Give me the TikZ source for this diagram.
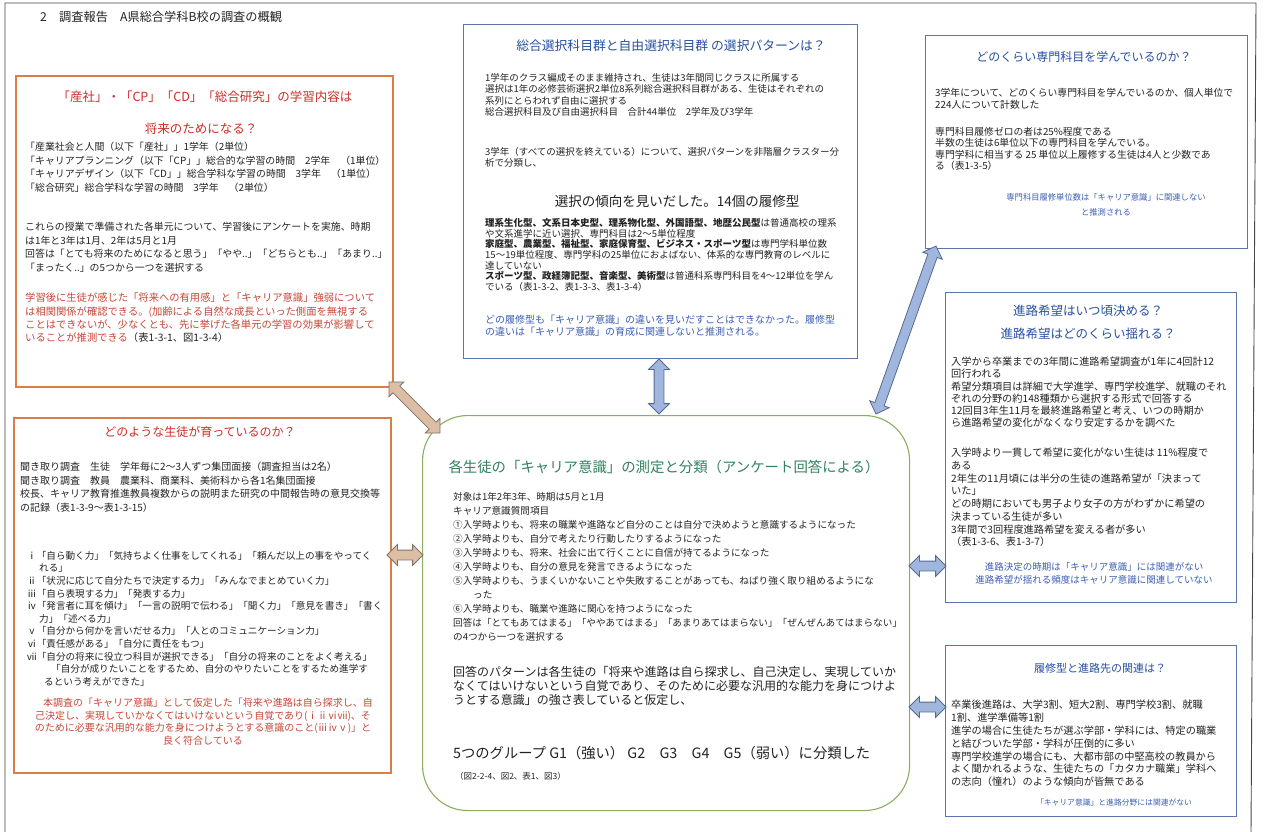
\documentclass[tikz,border=0pt]{standalone}
\usepackage{fontspec}
\setmainfont{Noto Sans CJK JP}
\usetikzlibrary{calc,shapes.arrows}
\definecolor{txt}{RGB}{35,35,35}
\definecolor{orangeb}{RGB}{219,125,70}
\definecolor{redt}{RGB}{205,45,40}
\definecolor{redp}{RGB}{200,70,55}
\definecolor{blueb}{RGB}{90,118,170}
\definecolor{bluet}{RGB}{40,80,160}
\definecolor{bluep}{RGB}{60,95,180}
\definecolor{greenb}{RGB}{140,175,95}
\definecolor{greent}{RGB}{50,130,95}
\definecolor{tanfill}{RGB}{220,190,165}
\definecolor{tandraw}{RGB}{130,115,105}
\definecolor{bluefill}{RGB}{160,182,220}
\definecolor{bluedraw}{RGB}{85,105,150}
\definecolor{framec}{RGB}{70,70,70}
\newcommand\myfs[2]{\fontsize{#1}{#2}\selectfont}
\newcommand\dblarrow[3]{\path let \p1=($(#2)-(#1)$), \n1={veclen(\x1,\y1)} in (#1) -- (#2) node[midway, sloped, #3, minimum height=\n1] {};}
\tikzset{
  obox/.style={draw=orangeb, line width=1.6pt, fill=white, inner sep=0pt, anchor=north west},
  bbox/.style={draw=blueb, line width=1.4pt, fill=white, inner sep=0pt, anchor=north west},
  gbox/.style={draw=greenb, line width=1.1pt, fill=white, inner sep=0pt, anchor=north west, rounded corners=45pt},
  bodytxt/.style={anchor=north west, inner sep=0pt, align=left, text=txt},
  ctrtxt/.style={anchor=center, inner sep=0pt, align=center},
  dblarr/.style={double arrow, draw, inner xsep=0pt, inner ysep=4.5pt, double arrow head extend=5.5pt, line width=0.8pt},
  tanarr/.style={dblarr, fill=tanfill, draw=tandraw},
  bluearr/.style={dblarr, fill=bluefill, draw=bluedraw},
  framel/.style={draw=framec, line width=0.9pt}
}
\begin{document}
\begin{tikzpicture}[x=1pt,y=-1pt]
\useasboundingbox (0,0) rectangle (1266,832);
\fill[white] (0,0) rectangle (1266,832);
\draw[framel] (5,832) -- (5,3) -- (1256,3) -- (1251,832);

\node[anchor=west, inner sep=0pt, text=txt, font=\myfs{12.2}{15}] (hdr) at (40,17) {2　調査報告　A県総合学科B校の調査の概観};

% boxes
\node[obox, minimum width=377, minimum height=311] (lt) at (15,75) {};
\node[obox, minimum width=377, minimum height=355] (lb) at (13,417) {};
\node[bbox, minimum width=394, minimum height=334] (tc) at (463,24) {};
\node[bbox, minimum width=322, minimum height=213] (rt) at (925,35) {};
\node[bbox, minimum width=291, minimum height=310] (rm) at (945,292) {};
\node[bbox, minimum width=291, minimum height=171] (rb) at (945,645) {};
\node[gbox, minimum width=487, minimum height=395] (cb) at (422,415) {};

% left top
\node[ctrtxt, text=redt, font=\myfs{12.5}{15}] (ltt1) at (205,97) {「産社」・「CP」「CD」「総合研究」の学習内容は};
\node[ctrtxt, text=redt, font=\myfs{12.5}{15}] (ltt2) at (201,129) {将来のためになる？};
\node[bodytxt, font=\myfs{9.9}{13.5}] (ltb1) at (25,142) {「産業社会と人間（以下「産社」」1学年（2単位）\\
「キャリアプランニング（以下「CP」」総合的な学習の時間　2学年　（1単位）\\
「キャリアデザイン（以下「CD」」総合学科な学習の時間　3学年　（1単位）\\
「総合研究」総合学科な学習の時間　3学年　（2単位）};
\node[bodytxt, font=\myfs{9.9}{13.5}] (ltb2) at (25,222) {これらの授業で準備された各単元について、学習後にアンケートを実施、時期\\
は1年と3年は1月、2年は5月と1月\\
回答は「とても将来のためになると思う」「やや..」「どちらとも..」「あまり..」\\
「まったく..」の5つから一つを選択する};
\node[bodytxt, text=redp, font=\myfs{10.3}{13.2}] (ltb3) at (25,293) {学習後に生徒が感じた「将来への有用感」と「キャリア意識」強弱について\\
は相関関係が確認できる。(加齢による自然な成長といった側面を無視する\\
ことはできないが、少なくとも、先に挙げた各単元の学習の効果が影響して\\
いることが推測できる{\color{txt}（表1-3-1、図1-3-4）}};

% left bottom
\node[ctrtxt, text=redt, font=\myfs{12}{15}] (lbt) at (200,432) {どのような生徒が育っているのか？};
\node[bodytxt, font=\myfs{10}{13.5}] (lbb1) at (20,462) {聞き取り調査　生徒　学年毎に2～3人ずつ集団面接（調査担当は2名）\\
聞き取り調査　教員　農業科、商業科、美術科から各1名集団面接\\
校長、キャリア教育推進教員複数からの説明また研究の中間報告時の意見交換等\\
の記録（表1-3-9～表1-3-15）};
\node[bodytxt, font=\myfs{9.6}{12.6}] (lbb2) at (27,551) {ⅰ「自ら動く力」「気持ちよく仕事をしてくれる」「頼んだ以上の事をやってく\\
\hspace*{12pt}れる」\\
ⅱ「状況に応じて自分たちで決定する力」「みんなでまとめていく力」\\
ⅲ「自ら表現する力」「発表する力」\\
ⅳ「発言者に耳を傾け」「一言の説明で伝わる」「聞く力」「意見を書き」「書く\\
\hspace*{12pt}力」「述べる力」\\
ⅴ「自分から何かを言いだせる力」「人とのコミュニケーション力」\\
ⅵ「責任感がある」「自分に責任をもつ」\\
ⅶ「自分の将来に役立つ科目が選択できる」「自分の将来のことをよく考える」\\
\hspace*{24pt}「自分が成りたいことをするため、自分のやりたいことをするため進学す\\
\hspace*{17pt}るという考えができた」};
\node[anchor=north, inner sep=0pt, align=center, text=redp, font=\myfs{10}{12.5}] (lbb3) at (203,698) {　本調査の「キャリア意識」として仮定した「将来や進路は自ら探求し、自\\
己決定し、実現していかなくてはいけないという自覚であり(ⅰⅱⅵⅶ)、そ\\
のために必要な汎用的な能力を身につけようとする意識のこと(ⅲⅳⅴ)」と\\
良く符合している};

% top center
\node[ctrtxt, text=bluet, font=\myfs{12.8}{15}] (tct) at (671,46) {総合選択科目群と自由選択科目群 の選択パターンは？};
\node[bodytxt, font=\myfs{9.5}{11.5}] (tcb1) at (485,73) {1学年のクラス編成そのまま維持され、生徒は3年間同じクラスに所属する\\
選択は1年の必修芸術選択2単位8系列総合選択科目群がある、生徒はそれぞれの\\
系列にとらわれず自由に選択する\\
総合選択科目及び自由選択科目　合計44単位　2学年及び3学年};
\node[bodytxt, font=\myfs{9.5}{11.5}] (tcb2) at (485,147) {3学年（すべての選択を終えている）について、選択パターンを非階層クラスター分\\
析で分類し、};
\node[ctrtxt, text=txt, font=\myfs{13.5}{15}] (tcm) at (677,201) {選択の傾向を見いだした。14個の履修型};
\node[bodytxt, font=\myfs{9.5}{10.7}] (tcb3) at (485,218) {\textbf{理系生化型、文系日本史型、理系物化型、外国語型、地歴公民型}は普通高校の理系\\
や文系進学に近い選択、専門科目は2～5単位程度\\
\textbf{家庭型、農業型、福祉型、家庭保育型、ビジネス・スポーツ型}は専門学科単位数\\
15～19単位程度、専門学科の25単位におよばない、体系的な専門教育のレベルに\\
達していない\\
\textbf{スポーツ型、政経簿記型、音楽型、美術型}は普通科系専門科目を4～12単位を学ん\\
でいる（表1-3-2、表1-3-3、表1-3-4）};
\node[bodytxt, text=bluep, font=\myfs{10}{12}] (tcb4) at (485,315) {どの履修型も「キャリア意識」の違いを見いだすことはできなかった。履修型\\
の違いは「キャリア意識」の育成に関連しないと推測される。};

% right top
\node[ctrtxt, text=bluet, font=\myfs{12}{15}] (rtt) at (1084,57) {どのくらい専門科目を学んでいるのか？};
\node[bodytxt, font=\myfs{9.8}{12}] (rtb1) at (935,88) {3学年について、どのくらい専門科目を学んでいるのか、個人単位で\\
224人について計数した};
\node[bodytxt, font=\myfs{9.8}{11.5}] (rtb2) at (935,127) {専門科目履修ゼロの者は25\%程度である\\
半数の生徒は6単位以下の専門科目を学んでいる。\\
専門学科に相当する 25 単位以上履修する生徒は4人と少数であ\\
る（表1-3-5）};
\node[ctrtxt, text=bluep, font=\myfs{8.3}{15}] (rtb3) at (1106,204.5) {専門科目履修単位数は「キャリア意識」に関連しない\\と推測される};

% right middle
\node[ctrtxt, text=bluet, font=\myfs{12.5}{15}] (rmt1) at (1088,311) {進路希望はいつ頃決める？};
\node[ctrtxt, text=bluet, font=\myfs{12.5}{15}] (rmt2) at (1088,334) {進路希望はどのくらい揺れる？};
\node[bodytxt, font=\myfs{10.2}{12.1}] (rmb1) at (951,357) {入学から卒業までの3年間に進路希望調査が1年に4回計12\\
回行われる\\
希望分類項目は詳細で大学進学、専門学校進学、就職のそれ\\
ぞれの分野の約148種類から選択する形式で回答する\\
12回目3年生11月を最終進路希望と考え、いつの時期か\\
ら進路希望の変化がなくなり安定するかを調べた};
\node[bodytxt, font=\myfs{10.2}{12.7}] (rmb2) at (951,448) {入学時より一貫して希望に変化がない生徒は 11\%程度で\\
ある\\
2年生の11月頃には半分の生徒の進路希望が「決まって\\
いた」\\
どの時期においても男子より女子の方がわずかに希望の\\
決まっている生徒が多い\\
3年間で3回程度進路希望を変える者が多い\\
（表1-3-6、表1-3-7）};
\node[ctrtxt, text=bluep, font=\myfs{9.5}{13}] (rmb3) at (1094,573.5) {進路決定の時期は「キャリア意識」には関連がない\\進路希望が揺れる頻度はキャリア意識に関連していない};

% right bottom
\node[ctrtxt, text=bluet, font=\myfs{11}{15}] (rbt) at (1100,668) {履修型と進路先の関連は？};
\node[bodytxt, font=\myfs{10.2}{12.8}] (rbb1) at (951,700) {卒業後進路は、大学3割、短大2割、専門学校3割、就職\\
1割、進学準備等1割\\
進学の場合に生徒たちが選ぶ学部・学科には、特定の職業\\
と結びついた学部・学科が圧倒的に多い\\
専門学校進学の場合にも、大都市部の中堅高校の教員から\\
よく聞かれるような、生徒たちの「カタカナ職業」学科へ\\
の志向（憧れ）のような傾向が皆無である};
\node[ctrtxt, text=bluep, font=\myfs{7.8}{12}] (rbb2) at (1114,803) {「キャリア意識」と進路分野には関連がない};

% center
\node[ctrtxt, text=greent, font=\myfs{14.4}{16}] (cbt) at (664,467) {各生徒の「キャリア意識」の測定と分類（アンケート回答による）};
\node[bodytxt, font=\myfs{9.6}{14}] (cbb1) at (453,492) {対象は1年2年3年、時期は5月と1月\\
キャリア意識質問項目\\
①入学時よりも、将来の職業や進路など自分のことは自分で決めようと意識するようになった\\
②入学時よりも、自分で考えたり行動したりするようになった\\
③入学時よりも、将来、社会に出て行くことに自信が持てるようになった\\
④入学時よりも、自分の意見を発言できるようになった\\
⑤入学時よりも、うまくいかないことや失敗することがあっても、ねばり強く取り組めるようにな\\
\hspace*{20pt}った\\
⑥入学時よりも、職業や進路に関心を持つようになった\\
回答は「とてもあてはまる」「ややあてはまる」「あまりあてはまらない」「ぜんぜんあてはまらない」\\
の4つから一つを選択する};
\node[bodytxt, font=\myfs{12}{13.8}] (cbb2) at (453,666) {回答のパターンは各生徒の「将来や進路は自ら探求し、自己決定し、実現していか\\
なくてはいけないという自覚であり、そのために必要な汎用的な能力を身につけよ\\
うとする意識」の強さ表していると仮定し、};
\node[anchor=west, inner sep=0pt, text=txt, font=\myfs{14.3}{16}] (cbb3) at (453,753) {5つのグループ G1（強い） G2　G3　G4　G5（弱い）に分類した};
\node[anchor=west, inner sep=0pt, text=txt, font=\myfs{8.5}{10}] (cbb4) at (455,776) {（図2-2-4、図2、表1、図3）};

% connectors
\coordinate (a1s) at (389,382);
\coordinate (a1e) at (440,433);
\coordinate (a2s) at (387,555);
\coordinate (a2e) at (423,555);
\coordinate (a3s) at (659,359);
\coordinate (a3e) at (659,414);
\coordinate (a4s) at (936,246);
\coordinate (a4e) at (876,414);
\coordinate (a5s) at (909,566);
\coordinate (a5e) at (946,566);
\coordinate (a6s) at (909,707);
\coordinate (a6e) at (946,707);
\dblarrow{a1s}{a1e}{tanarr}
\dblarrow{a2s}{a2e}{tanarr}
\dblarrow{a3s}{a3e}{bluearr}
\dblarrow{a4s}{a4e}{bluearr}
\dblarrow{a5s}{a5e}{bluearr}
\dblarrow{a6s}{a6e}{bluearr}
\end{tikzpicture}
\end{document}
